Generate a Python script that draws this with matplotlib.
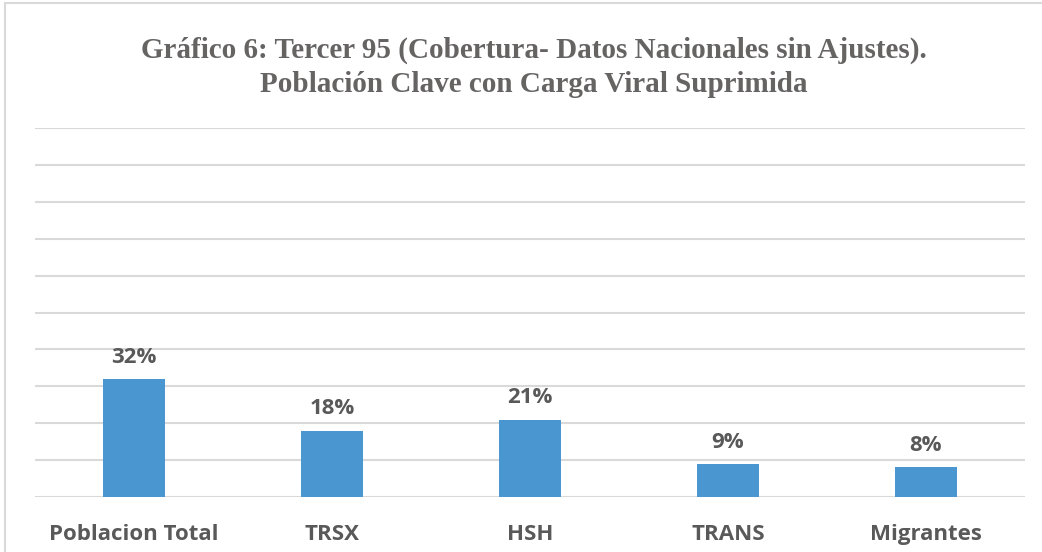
import matplotlib.pyplot as plt
from matplotlib.patches import Rectangle

# data
categories = ["Poblacion Total", "TRSX", "HSH", "TRANS", "Migrantes"]
values = [32, 18, 21, 9, 8]
labels = ["32%", "18%", "21%", "9%", "8%"]

bar_color = "#4a96d0"
text_color = "#595959"
title_color = "#666363"

fig = plt.figure(figsize=(10.42, 5.52), dpi=100)
ax = fig.add_axes([35 / 1042, 1 - 497 / 552, 990 / 1042, 369 / 552])

x = range(len(categories))
ax.bar(x, values, width=0.31, color=bar_color, zorder=3)

for i, (v, lab) in enumerate(zip(values, labels)):
    ax.annotate(lab, (i, v), xytext=(0, 8), textcoords="offset points",
                ha="center", va="bottom", fontsize=16, fontweight="bold",
                color=text_color, family="Open Sans")

ax.set_xlim(-0.5, len(categories) - 0.5)
ax.set_ylim(0, 100)
ax.set_yticks(range(0, 101, 10))
ax.yaxis.grid(True, color="#d9d9d9", linewidth=1.5, zorder=0)
ax.tick_params(axis="y", left=False, labelleft=False)
ax.tick_params(axis="x", bottom=False, pad=16)
ax.set_xticks(list(x))
ax.set_xticklabels(categories, fontsize=16, fontweight="bold", color=text_color,
                   family="Open Sans")
for s in ax.spines.values():
    s.set_visible(False)

title_x = 534 / 1042
fig.text(title_x, 1 - 50 / 552, "Gráfico 6: Tercer 95 (Cobertura- Datos Nacionales sin Ajustes).",
         ha="center", va="center", fontsize=21, fontweight="bold", color=title_color,
         family="Liberation Serif")
fig.text(title_x, 1 - 85 / 552, "Población Clave con Carga Viral Suprimida",
         ha="center", va="center", fontsize=21, fontweight="bold", color=title_color,
         family="Liberation Serif")

# outer chart frame
fig.patches.append(Rectangle((5 / 1042, -0.1), 1.1, 1 - 3 / 552 + 0.1,
                             transform=fig.transFigure, fill=False,
                             edgecolor="#d9d9d9", linewidth=1.5))

fig.savefig("out.png", dpi=100)
